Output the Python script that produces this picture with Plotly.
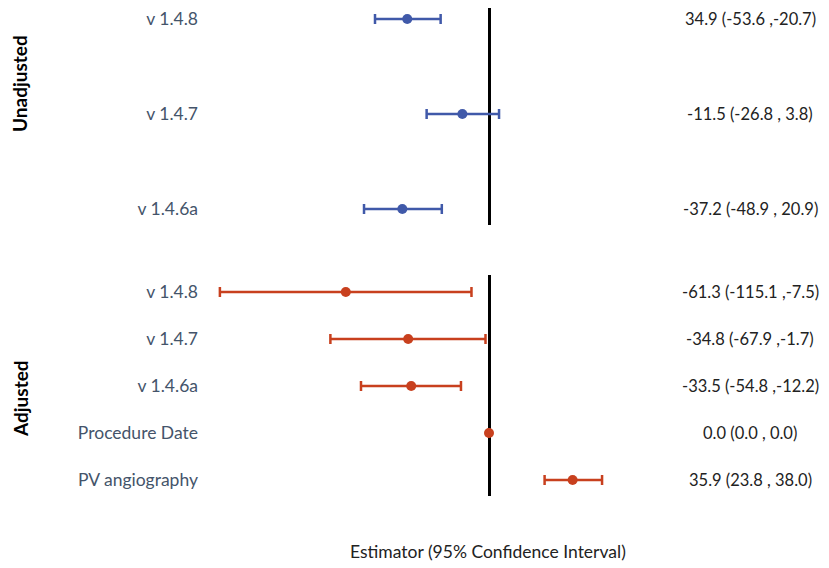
import plotly.graph_objects as go
from plotly.subplots import make_subplots

unadj_labels = ["v 1.4.8", "v 1.4.7", "v 1.4.6a"]
unadj_est = [-35.0, -11.4, -37.1]
unadj_lo = [-48.8, -26.7, -53.5]
unadj_hi = [-20.7, 4.3, -20.2]
unadj_text = ["34.9 (-53.6 ,-20.7)", "-11.5 (-26.8 , 3.8)", "-37.2 (-48.9 , 20.9)"]

adj_labels = ["v 1.4.8", "v 1.4.7", "v 1.4.6a", "Procedure Date", "PV angiography"]
adj_est = [-61.3, -34.6, -33.3, 0.0, 35.8]
adj_lo = [-115.2, -67.9, -54.8, 0.0, 23.8]
adj_hi = [-7.5, -1.5, -12.0, 0.0, 48.4]
adj_text = ["-61.3 (-115.1 ,-7.5)", "-34.8 (-67.9 ,-1.7)", "-33.5 (-54.8 ,-12.2)",
            "0.0 (0.0 , 0.0)", "35.9 (23.8 , 38.0)"]

BLUE = '#4059A9'
RED = '#C8401E'
LABEL_COLOR = '#44546A'
TEXT_COLOR = '#222222'
FONT = 'Lato'

# page has an 8px body margin, so the figure is a bit smaller than the window
OFF = 8
W, H = 829 - OFF, 568 - OFF


def px_x(p):
    return (p - OFF) / W


def px_y(p):
    return min(1, 1 - (p - OFF) / H)


fig = make_subplots(rows=2, cols=1)


def add_group(est, lo, hi, labels, color, row):
    fig.add_trace(
        go.Scatter(
            x=est,
            y=labels,
            mode='markers',
            marker=dict(color=color, size=10),
            error_x=dict(
                type='data',
                symmetric=False,
                array=[h - e for h, e in zip(hi, est)],
                arrayminus=[e - l for e, l in zip(est, lo)],
                color=color,
                thickness=2.5,
                width=5,
            ),
            showlegend=False,
        ),
        row=row, col=1,
    )


add_group(unadj_est, unadj_lo, unadj_hi, unadj_labels, BLUE, 1)
add_group(adj_est, adj_lo, adj_hi, adj_labels, RED, 2)

# zero at x=489px, 2.336 px per unit
xdom = [px_x(199), px_x(650)]
xrange_ = [(199 - 489) / 2.336, (650 - 489) / 2.336]

for ax in ['xaxis', 'xaxis2']:
    fig.layout[ax].update(
        domain=xdom, range=xrange_, showticklabels=False, showgrid=False,
        zeroline=True, zerolinecolor='black', zerolinewidth=3, showline=False,
    )

fig.update_layout(
    yaxis=dict(
        domain=[px_y(225), px_y(8)],
        range=[(225 - 19) / 95, (8 - 19) / 95],
        showgrid=False, zeroline=False, ticks='',
        tickfont=dict(color=LABEL_COLOR, size=17.5, family=FONT),
    ),
    yaxis2=dict(
        domain=[px_y(496), px_y(275)],
        range=[(496 - 292) / 47, (275 - 292) / 47],
        showgrid=False, zeroline=False, ticks='',
        tickfont=dict(color=LABEL_COLOR, size=17.5, family=FONT),
    ),
    width=W, height=H,
    margin=dict(l=0, r=0, t=0, b=0),
    plot_bgcolor='white',
    paper_bgcolor='white',
    font=dict(family=FONT),
)

for lab, txt in zip(unadj_labels, unadj_text):
    fig.add_annotation(x=px_x(750), xref='paper', xanchor='center', y=lab, yref='y', text=txt,
                       showarrow=False, font=dict(size=16.5, color=TEXT_COLOR))
for lab, txt in zip(adj_labels, adj_text):
    fig.add_annotation(x=px_x(750), xref='paper', xanchor='center', y=lab, yref='y2', text=txt,
                       showarrow=False, font=dict(size=16.5, color=TEXT_COLOR))

fig.add_annotation(x=px_x(20), y=px_y(84), xref='paper', yref='paper', text='<b>Unadjusted</b>',
                   xanchor='center', yanchor='middle',
                   textangle=-90, showarrow=False, font=dict(size=19, color='black'))
fig.add_annotation(x=px_x(20), y=px_y(399), xref='paper', yref='paper', text='<b>Adjusted</b>',
                   xanchor='center', yanchor='middle',
                   textangle=-90, showarrow=False, font=dict(size=19, color='black'))
fig.add_annotation(x=px_x(488), y=px_y(551), xref='paper', yref='paper',
                   text='Estimator (95% Confidence Interval)', xanchor='center', yanchor='middle',
                   showarrow=False, font=dict(size=17.5, color=TEXT_COLOR))

fig.write_html("out.html")
